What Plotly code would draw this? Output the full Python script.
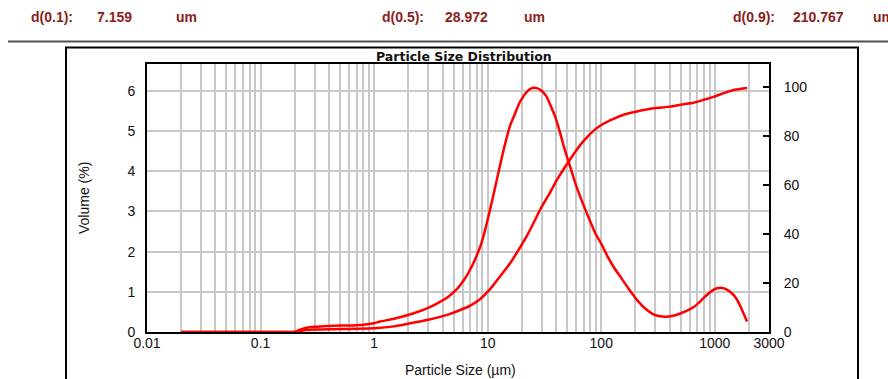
import plotly.graph_objects as go
import math

# ---- data ----
freq_size = [0.02, 0.05, 0.1, 0.15, 0.2, 0.22, 0.25, 0.3, 0.4, 0.5, 0.6, 0.7, 0.8, 0.9, 1.0, 1.13, 1.5, 2.2, 3.0, 3.8,
             4.5, 5.4, 6.2, 7.0, 8.0, 8.9, 10.0, 10.9, 12.4, 14.0, 15.8, 17.5, 19.0, 20.7, 22.5, 24.0, 25.5, 27.1, 30.0,
             33.1, 36.0, 39.3, 43.5, 47.0, 51.5, 60, 70, 80, 90, 100, 116, 130, 147, 175, 206, 245, 288, 330, 379, 440,
             497, 570, 651, 750, 852, 950, 1046, 1197, 1320, 1466, 1580, 1679, 1800, 1923]
freq_vol = [0, 0, 0, 0, 0, 0.05, 0.10, 0.13, 0.15, 0.16, 0.16, 0.17, 0.18, 0.20, 0.22, 0.26, 0.33, 0.46, 0.60, 0.75,
            0.88, 1.08, 1.3, 1.55, 1.9, 2.25, 2.8, 3.25, 3.95, 4.6, 5.15, 5.45, 5.7, 5.87, 6.0, 6.06, 6.08, 6.07, 6.0,
            5.85, 5.62, 5.36, 4.95, 4.6, 4.24, 3.65, 3.15, 2.75, 2.42, 2.2, 1.83, 1.6, 1.38, 1.07, 0.80, 0.58, 0.44, 0.39,
            0.38, 0.41, 0.46, 0.53, 0.62, 0.77, 0.92, 1.03, 1.09, 1.09, 1.03, 0.92, 0.79, 0.64, 0.45, 0.26]

cum_size = [0.02, 0.1, 0.2, 0.22, 0.25, 0.3, 0.4, 0.5, 0.7, 1.0, 1.5, 2.2, 3.0, 4.4, 6.1, 7.16, 8.6, 10.5, 13, 16,
            18.7, 22, 26, 29, 35, 40.6, 51.5, 60, 70, 85, 100, 128, 160, 206, 288, 405, 500, 651, 800, 978, 1200,
            1466, 1700, 1923]
cum_vol = [0, 0, 0, 0.3, 0.8, 1.0, 1.1, 1.2, 1.3, 1.5, 2.3, 3.8, 5.0, 7.0, 9.5, 11, 13.5, 17.5, 23, 28.5,
           33.5, 39, 45.5, 50, 56.5, 62, 69.5, 74, 78, 82, 84.5, 87, 88.8, 90, 91.3, 92, 92.8, 93.6, 94.8, 96, 97.5,
           98.8, 99.3, 99.6]

header_labels = ["d(0.1):", "d(0.5):", "d(0.9):"]
header_values = ["7.159", "28.972", "210.767"]
header_unit = "um"

x_tick_max = 3000
y_left_ticks = [0, 1, 2, 3, 4, 5, 6]
y_right_ticks = [0, 20, 40, 60, 80, 100]

# ---- geometry helpers ----
L, R, T, B = 147, 769, 64, 332
W, H = 888, 379


def px(x):
    return (x - L) / (R - L)


def py(y):
    return (B - y) / (B - T)


# x tick values (gridlines at 1..9 per decade), labels only at decades + 3000
tickvals, ticktext = [], []
labels_at = {0.01: "0.01", 0.1: "0.1", 1: "1", 10: "10", 100: "100", 1000: "1000"}
for e in range(-2, 4):
    for m in range(1, 10):
        v = round(m * 10 ** e, 6)
        if v >= x_tick_max:
            break
        tickvals.append(v)
        ticktext.append(labels_at.get(v, ""))
tickvals.append(x_tick_max)
ticktext.append(str(x_tick_max))

red = "#ff0000"
fig = go.Figure()
fig.add_trace(go.Scatter(x=freq_size, y=freq_vol, mode="lines",
                         line=dict(color=red, width=2.5, shape="spline", smoothing=0.6),
                         showlegend=False, yaxis="y"))
fig.add_trace(go.Scatter(x=cum_size, y=cum_vol, mode="lines",
                         line=dict(color=red, width=2.5, shape="spline", smoothing=0.5),
                         showlegend=False, yaxis="y2"))

font_main = "Liberation Sans, Arial, sans-serif"
grid = "#c8c8c8"
txt = "#111111"

fig.update_layout(
    width=W, height=H,
    margin=dict(l=L, r=W - R, t=T, b=H - B, pad=0),
    paper_bgcolor="white", plot_bgcolor="white",
    font=dict(family=font_main, size=14, color=txt),
    xaxis=dict(type="log", range=[-2.0002, math.log10(x_tick_max) + 0.0002], tickvals=tickvals, ticktext=ticktext,
               showgrid=True, gridcolor=grid, gridwidth=2, zeroline=False,
               showline=True, linecolor="black", linewidth=2, mirror=True,
               ticks="", ticklabelstandoff=-3, tickfont=dict(size=14, color=txt), tickangle=0),
    yaxis=dict(range=[0, 6.67], tickvals=y_left_ticks, showgrid=True, gridcolor=grid, gridwidth=2,
               zeroline=False, showline=True, linecolor="black", linewidth=2,
               ticks="outside", ticklen=7, tickcolor="rgba(0,0,0,0)", tickfont=dict(size=14, color=txt)),
    yaxis2=dict(range=[0, 109.4], tickvals=y_right_ticks, overlaying="y", side="right", showgrid=False,
                zeroline=False, showline=True, linecolor="black", linewidth=2,
                ticks="inside", ticklen=6, tickwidth=2, tickcolor="black", ticklabelstandoff=10,
                tickfont=dict(size=14, color=txt)),
)

shapes = []
# header separator line
shapes.append(dict(type="line", xref="paper", yref="paper", x0=px(8), x1=px(888), y0=py(41.5), y1=py(41.5),
                   line=dict(color="#505050", width=2)))
# outer frame
shapes.append(dict(type="rect", xref="paper", yref="paper", x0=px(66), x1=px(858), y0=py(395), y1=py(47.5),
                   line=dict(color="black", width=2), fillcolor="rgba(0,0,0,0)", layer="below"))
fig.update_layout(shapes=shapes)

anns = []
hdr_color = "#8c1e1e"
hdr_font = dict(family="Liberation Sans, Arial", size=14, color=hdr_color)
label_x = [29, 380, 731]
value_x = [95, 443, 791]
unit_x = [174, 522, 871]
for i in range(3):
    for xx, t in ((label_x[i], header_labels[i]), (value_x[i], header_values[i]), (unit_x[i], header_unit)):
        anns.append(dict(xref="paper", yref="paper", x=px(xx), y=py(17), text=f"<b>{t}</b>", showarrow=False,
                         xanchor="left", yanchor="middle", font=hdr_font))
anns.append(dict(xref="paper", yref="paper", x=px(464), y=py(56.5), text="<b>Particle Size Distribution</b>",
                 showarrow=False, xanchor="center", yanchor="middle",
                 font=dict(family="DejaVu Sans", size=12.5, color="#111")))
anns.append(dict(xref="paper", yref="paper", x=px(460), y=py(370), text="Particle Size (µm)", showarrow=False,
                 xanchor="center", yanchor="middle", font=dict(family=font_main, size=14, color=txt)))
anns.append(dict(xref="paper", yref="paper", x=px(84), y=py(198), text="Volume (%)", showarrow=False, textangle=-90,
                 xanchor="center", yanchor="middle", font=dict(family=font_main, size=14, color=txt)))
fig.update_layout(annotations=anns)

fig.write_html("out.html")
